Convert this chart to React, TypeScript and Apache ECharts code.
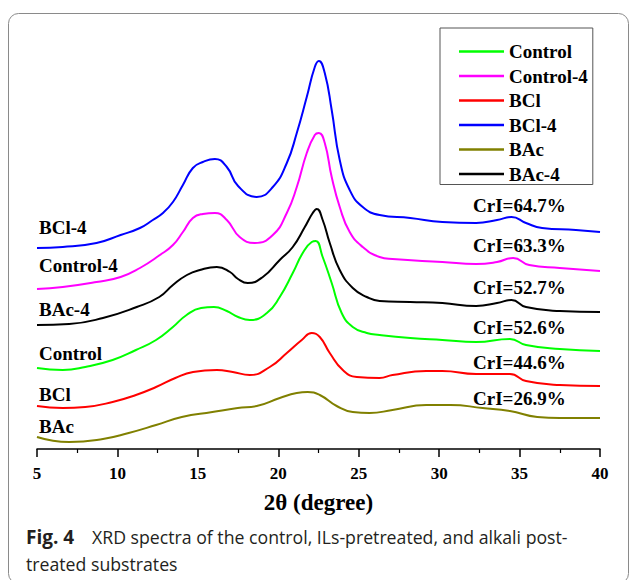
import React, { useEffect, useRef } from "react";
import * as echarts from "echarts";

// 2θ (degree) vs intensity (a.u., stacked offsets as plotted)
const seriesNames = ["Control", "Control-4", "BCl", "BCl-4", "BAc", "BAc-4"];
const seriesColors = ["#00ff00", "#ff00ff", "#ff0000", "#0000ff", "#808000", "#000000"];

const control = [
  [5, 81], [6.6, 79], [8.0, 82], [9.7, 89], [11.15, 99], [12.4, 109], [13.45, 122], [14.3, 134],
  [15.2, 141], [16.0, 142], [16.8, 138], [17.5, 132], [18.23, 129], [19.29, 136], [20.09, 152],
  [20.9, 176], [21.52, 196], [22.08, 207], [22.33, 208], [22.76, 192], [23.32, 166], [23.94, 136],
  [24.63, 122], [25.5, 116], [26.3, 114], [28.2, 111], [30.2, 109], [32.3, 107], [34.4, 110],
  [35.4, 104], [37.5, 100], [40, 98],
];
const control4 = [
  [5, 160], [6.6, 162], [8.7, 167], [10.2, 172], [11.4, 181], [12.64, 194], [13.45, 204], [14.07, 217],
  [14.69, 231], [15.31, 235], [16.06, 236], [16.8, 229], [17.6, 212], [18.54, 206], [19.66, 214],
  [20.53, 236], [21.15, 262], [21.77, 296], [22.27, 314], [22.52, 316], [22.89, 306], [23.32, 272],
  [23.82, 242], [24.44, 217], [25.25, 202], [26.3, 192], [27.1, 190], [30.2, 187], [32.3, 185],
  [33.6, 187], [34.6, 191], [35.6, 184], [37.5, 181], [40, 178],
];
const bcl = [
  [5, 43], [6.6, 41], [8.0, 42], [9.7, 47], [11.15, 54], [12.4, 62], [13.6, 71], [14.7, 77],
  [16.18, 79], [17.17, 77], [18.23, 74], [19.47, 82], [20.53, 96], [21.46, 109], [22.08, 116],
  [22.58, 112], [23.2, 96], [24.01, 79], [24.88, 72], [26.3, 71], [27.1, 74], [29.2, 78],
  [30.2, 78], [32.3, 75], [34.4, 75], [35.4, 68], [37.5, 64], [40, 63],
];
const bcl4 = [
  [5, 201], [6.6, 202], [8.7, 206], [10.2, 214], [11.4, 221], [12.2, 229], [12.83, 236], [13.45, 247],
  [14.07, 264], [14.69, 281], [15.31, 287], [16.06, 290], [16.8, 282], [17.5, 263], [18.66, 252],
  [19.66, 262], [20.53, 286], [21.15, 316], [21.77, 352], [22.27, 382], [22.52, 388], [22.89, 376],
  [23.32, 339], [23.82, 289], [24.44, 259], [25.25, 242], [26.3, 234], [28.2, 231], [30.2, 227],
  [32.3, 226], [33.6, 229], [34.5, 232], [35.4, 226], [36.4, 221], [38.5, 219], [40, 217],
];
const bac = [
  [5, 12], [7.0, 7], [9.1, 10], [10.7, 16], [12.4, 24], [14.0, 32], [15.9, 37], [17.48, 41],
  [18.66, 43], [20.09, 51], [21.15, 56], [21.83, 57], [22.58, 54], [23.63, 43], [24.63, 37],
  [25.68, 36], [27.1, 39], [29.2, 44], [30.7, 44], [32.7, 41], [34.4, 38], [36.1, 32],
  [37.5, 31], [40, 31],
];
const bac4 = [
  [5, 124], [7.0, 125], [9.1, 131], [11.2, 142], [12.6, 152], [13.45, 164], [14.32, 174],
  [15.12, 179], [16.18, 182], [17.0, 177], [17.5, 170], [18.1, 166], [19.04, 172], [20.09, 189],
  [20.9, 202], [21.65, 222], [22.14, 236], [22.39, 240], [22.76, 229], [23.2, 206], [23.82, 179],
  [24.63, 161], [25.5, 152], [26.3, 148], [28.2, 147], [30.2, 146], [32.3, 143], [33.6, 146],
  [34.5, 149], [35.4, 142], [37.5, 138], [40, 137],
];
const seriesData = [control, control4, bcl, bcl4, bac, bac4];

const sideLabels = ["BCl-4", "Control-4", "BAc-4", "Control", "BCl", "BAc"];
const sideLabelY = [227, 265, 309, 353, 394, 426];
const crILabels = ["CrI=64.7%", "CrI=63.3%", "CrI=52.7%", "CrI=52.6%", "CrI=44.6%", "CrI=26.9%"];
const crILabelY = [205, 245, 287, 327, 362, 398];

const SERIF = "'Liberation Serif', 'Times New Roman', serif";
const SANS = "'Open Sans', sans-serif";

export default function App() {
  const ref = useRef<HTMLDivElement>(null);
  useEffect(() => {
    if (!ref.current) return;
    const chart = echarts.init(ref.current, null, { renderer: "svg" });
    const graphics: any[] = [
      {
        type: "rect",
        shape: { x: 8.5, y: 13.5, width: 620, height: 570, r: 10 },
        style: { fill: "none", stroke: "#8a8a8a", lineWidth: 1 },
        silent: true,
      },
    ];
    sideLabels.forEach((t, i) => {
      graphics.push({
        type: "text",
        x: 39,
        y: sideLabelY[i],
        style: { text: t, font: `bold 19px ${SERIF}`, fill: "#000", textVerticalAlign: "middle" },
      });
    });
    crILabels.forEach((t, i) => {
      graphics.push({
        type: "text",
        x: 473,
        y: crILabelY[i],
        style: { text: t, font: `bold 19px ${SERIF}`, fill: "#000", textVerticalAlign: "middle" },
      });
    });
    graphics.push({
      type: "text",
      x: 26,
      y: 537,
      style: { text: "Fig. 4", font: `bold 19px ${SANS}`, fill: "#231f20", textVerticalAlign: "middle" },
    });
    graphics.push({
      type: "text",
      x: 92,
      y: 537,
      style: {
        text: "XRD spectra of the control, ILs-pretreated, and alkali post-",
        font: `17.7px ${SANS}`,
        fill: "#231f20",
        textVerticalAlign: "middle",
      },
    });
    graphics.push({
      type: "text",
      x: 26,
      y: 564,
      style: { text: "treated substrates", font: `17.7px ${SANS}`, fill: "#231f20", textVerticalAlign: "middle" },
    });

    chart.setOption({
      animation: false,
      backgroundColor: "#fff",
      grid: { left: 37, right: 29, top: 49, bottom: 131 },
      legend: {
        data: seriesNames,
        orient: "vertical",
        left: 440,
        top: 28,
        padding: [14, 5, 1, 19],
        icon: "rect",
        itemWidth: 45,
        itemHeight: 2.5,
        itemGap: 5.5,
        borderColor: "#555",
        borderWidth: 1,
        textStyle: { fontFamily: SERIF, fontWeight: "bold", fontSize: 19, color: "#000" },
      },
      xAxis: {
        type: "value",
        min: 5,
        max: 40,
        interval: 5,
        name: "2θ (degree)",
        nameLocation: "middle",
        nameGap: 42,
        nameTextStyle: { fontFamily: SERIF, fontWeight: "bold", fontSize: 23, color: "#000" },
        axisLine: { show: true, lineStyle: { color: "#000", width: 1.5 } },
        axisTick: { show: true, inside: false, length: 8, lineStyle: { color: "#000", width: 1.5 } },
        minorTick: { show: true, splitNumber: 2, length: 4, lineStyle: { color: "#000", width: 1.2 } },
        axisLabel: { margin: 16, fontFamily: SERIF, fontWeight: "bold", fontSize: 17, color: "#000" },
        splitLine: { show: false },
      },
      yAxis: { type: "value", min: 0, max: 400, show: false },
      series: seriesNames.map((n, i) => ({
        name: n,
        type: "line",
        data: seriesData[i],
        symbol: "none",
        smooth: 0.5,
        lineStyle: { color: seriesColors[i], width: 2 },
        itemStyle: { color: seriesColors[i] },
      })),
      graphic: graphics,
    });
    return () => chart.dispose();
  }, []);
  return (
    <div
      ref={ref}
      style={{ position: "fixed", left: 0, top: 0, width: 629, height: 580, background: "#fff" }}
    />
  );
}
